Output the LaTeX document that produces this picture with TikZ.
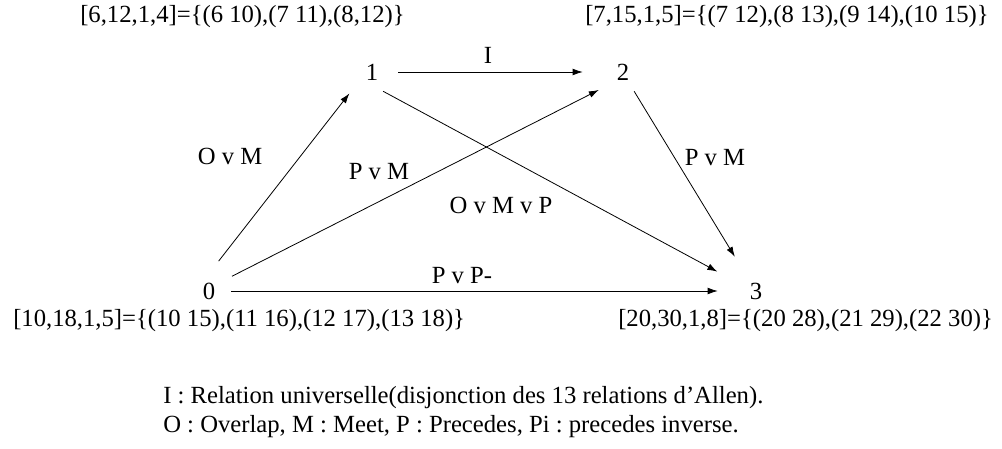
\documentclass[tikz,border=0pt]{standalone}
\usepackage{fontspec}
\setmainfont{Liberation Serif}
\usetikzlibrary{arrows.meta}
\frenchspacing
\begin{document}
\begin{tikzpicture}[x=0.75pt,y=-0.75pt,
  every node/.style={font=\fontsize{18.5}{21}\selectfont},
  vert/.style={circle,minimum size=44*0.75pt,inner sep=0pt},
  rel/.style={-{Latex[length=7.5pt,width=5pt]},line width=0.6pt},
  lab/.style={inner sep=0pt}]
\useasboundingbox (0,0) rectangle (1002,449);
\node[vert] (n1) at (372,72) {1};
\node[vert] (n2) at (623,72) {2};
\node[vert] (n0) at (209,291) {0};
\node[vert] (n3) at (756,291) {3};
\node[lab,anchor=west] (t1) at (80,17) {[6,12,1,4]=\{(6 10),(7 11),(8,12)\}};
\node[lab,anchor=west] (t2) at (585,17) {[7,15,1,5]=\{(7 12),(8 13),(9 14),(10 15)\}};
\node[lab,anchor=west] (t0) at (13,321) {[10,18,1,5]=\{(10 15),(11 16),(12 17),(13 18)\}};
\node[lab,anchor=west] (t3) at (618,321) {[20,30,1,8]=\{(20 28),(21 29),(22 30)\}};
\draw[rel,shorten <=4*0.75pt,shorten >=18*0.75pt] (n1.east) -- (n2.west);
\draw[rel,shorten <=10*0.75pt,shorten >=9*0.75pt] (n0.81) -- (n1.-140);
\draw[rel,shorten <=5*0.75pt,shorten >=8*0.75pt] (n0.34) -- (n2.-140);
\draw[rel,shorten >=21*0.75pt] (n1.-60) -- (n3.155);
\draw[rel,shorten >=18*0.75pt] (n2.-60) -- (n3.122);
\draw[rel,shorten >=16*0.75pt] (n0.east) -- (n3.west);
\node[lab] (l12) at (488,55) {I};
\node[lab] (l01) at (230,156) {O v M};
\node[lab] (l02) at (379,172) {P v M};
\node[lab] (l13) at (501,205) {O v M v P};
\node[lab] (l23) at (715,158) {P v M};
\node[lab] (l03) at (462,276) {P v P-};
\node[lab,anchor=west] (leg1) at (163,398) {I : Relation universelle(disjonction des 13 relations d’Allen).};
\node[lab,anchor=west] (leg2) at (163,427) {O : Overlap, M : Meet, P : Precedes, Pi : precedes inverse.};
\end{tikzpicture}
\end{document}
